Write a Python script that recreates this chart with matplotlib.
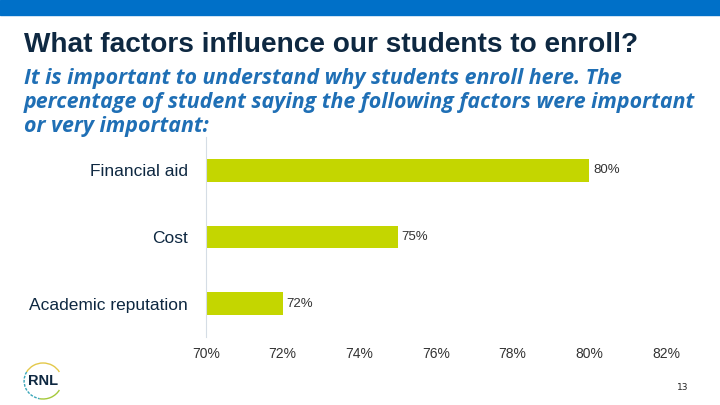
import matplotlib
matplotlib.use("Agg")
import matplotlib.pyplot as plt
from matplotlib.patches import Rectangle, Arc

# Chart data
factors = ["Financial aid", "Cost", "Academic reputation"]
pct = [80, 75, 72]
ticks = [70, 72, 74, 76, 78, 80, 82]

BAR = "#c4d600"
NAVY = "#0e2841"
BLUE = "#1f6fb5"

fig = plt.figure(figsize=(7.2, 4.05), dpi=100)

# Top blue band
fig.patches.append(Rectangle((0, 1 - 15 / 405), 1, 15 / 405, transform=fig.transFigure,
                             color="#0070c8", zorder=0))

fig.text(24 / 720, 1 - 45 / 405, "What factors influence our students to enroll?",
         fontsize=20.2, fontweight="bold", color=NAVY, family="Liberation Sans",
         va="center", ha="left")

subtitle = ("It is important to understand why students enroll here. The\n"
            "percentage of student saying the following factors were important\n"
            "or very important:")
fig.text(24 / 720, 1 - 68 / 405, subtitle, fontsize=15.4, fontweight="bold",
         fontstyle="italic", color=BLUE, family="Open Sans", va="top", ha="left",
         linespacing=1.2)

# Bar chart
ax = fig.add_axes([206 / 720, 1 - 337 / 405, 460 / 720, 200 / 405])
y = [2, 1, 0]
ax.barh(y, [p - 70 for p in pct], left=70, height=0.34, color=BAR)
for yi, p in zip(y, pct):
    ax.text(p + 0.1, yi, f"{p}%", va="center", ha="left", fontsize=9.5,
            color="#333333", family="Liberation Sans")

ax.set_xlim(70, 82)
ax.set_ylim(-0.5, 2.5)
ax.set_xticks(ticks)
ax.set_xticklabels([f"{t}%" for t in ticks], fontsize=10, color="#333333",
                   family="Liberation Sans")
ax.set_yticks(y)
ax.set_yticklabels(factors, fontsize=12.5, color=NAVY, family="Liberation Sans")
ax.tick_params(axis="both", length=0)
ax.tick_params(axis="x", pad=7)
ax.tick_params(axis="y", pad=13)
for s in ["top", "right", "bottom"]:
    ax.spines[s].set_visible(False)
ax.spines["left"].set_color("#d5dde5")

# Logo
fig.text(43 / 720, 1 - 381 / 405, "RNL", fontsize=10.5, fontweight="bold", color=NAVY,
         ha="center", va="center", family="Liberation Sans")
lax = fig.add_axes([22 / 720, 1 - 401 / 405, 42 / 720, 40 / 405])
lax.set_xlim(-1, 1)
lax.set_ylim(-1, 1)
lax.axis("off")
lax.add_patch(Arc((0.0, 0), 1.8, 1.8, theta1=30, theta2=150, color="#e3c84a", lw=1))
lax.add_patch(Arc((0.0, 0), 1.8, 1.8, theta1=150, theta2=260, color="#3aa6b9", lw=1, ls=(0, (2, 1))))
lax.add_patch(Arc((0.0, 0), 1.8, 1.8, theta1=260, theta2=330, color="#a5c93a", lw=1))

fig.text(683 / 720, 1 - 388 / 405, "13", fontsize=6.5, color="#222222",
         ha="center", va="center")

fig.savefig("out.png", dpi=100)
